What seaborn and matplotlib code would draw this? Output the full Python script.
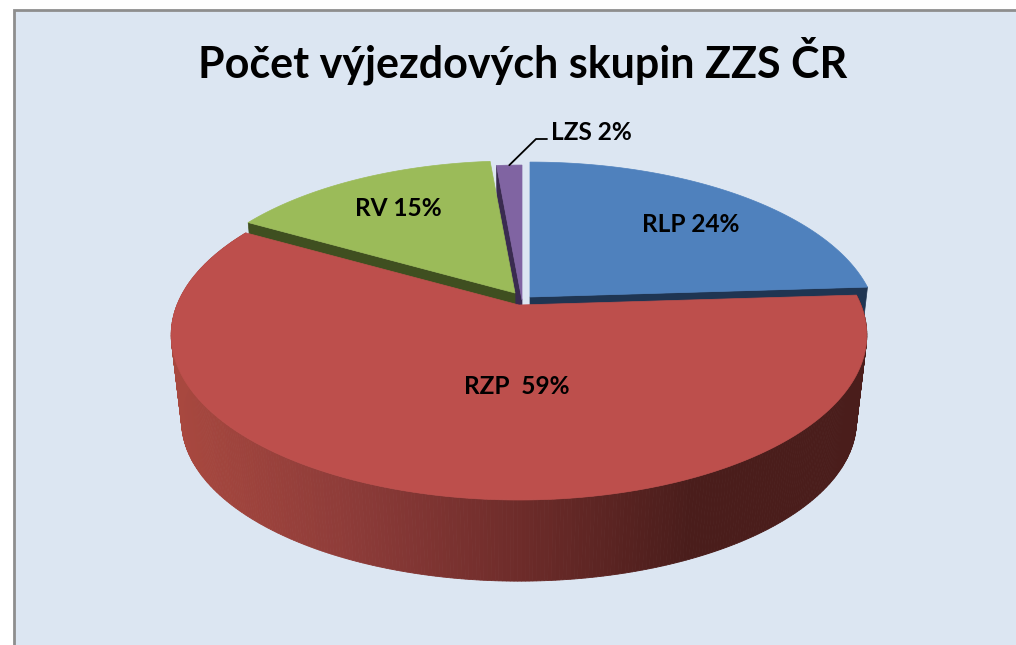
import numpy as np
import matplotlib
matplotlib.use("Agg")
import matplotlib.pyplot as plt
from matplotlib.patches import Rectangle
import seaborn as sns

# values (percent, clockwise from 12 o'clock)
groups = ["RLP", "RZP", "RV", "LZS"]
shares = [24.0, 59.2, 15.4, 1.4]
labels = ["RLP 24%", "RZP  59%", "RV 15%", "LZS 2%"]
title = "Počet výjezdových skupin ZZS ČR"

top_colors = ["#4F81BD", "#BD4F4C", "#9BBB59", "#8064A2"]
wall_colors = ["#1F3552", "#4A1D1B", "#3F4F20", "#3A2B50"]
side_ramp = ["#A8483F", "#8E3C39", "#6E2C2A", "#4A1D1B", "#4A1D1B"]
background = "#DCE6F2"

# slice offsets, radius factors and label anchors, in pixels
explode = {"RLP": (11, -8), "RZP": (0, 0), "RV": (-4, -12), "LZS": (3, -5)}
radius = {"RLP": 1.0, "RZP": 1.0, "RV": 0.975, "LZS": 1.0}
label_pos = {"RLP": (691, 225), "RZP": (517, 387), "RV": (398, 208), "LZS": (591, 132)}

# fake 3d pie: circle seen in perspective
CX, CY = 519, 305
RX, RY = 342, 159.5
PERSP = 0.182
DEPTH = 87
SHRINK = 0.97


def project(angle, r=1.0, lower=False, offset=(0, 0)):
    x = r * np.sin(angle)
    y = r * np.cos(angle)
    w = 1 + PERSP * y
    s = SHRINK if lower else 1.0
    return (CX + offset[0] + s * RX * x / w,
            CY + offset[1] + (DEPTH if lower else 0) - s * RY * y / w)


sns.set_theme(style="white")
plt.rcParams["font.family"] = ["Lato", "DejaVu Sans"]

fig, ax = plt.subplots(figsize=(10.16, 6.45), dpi=100)
fig.subplots_adjust(0, 0, 1, 1)
ax.set_xlim(0, 1016)
ax.set_ylim(645, 0)
ax.axis("off")

ax.add_patch(Rectangle((14, 10), 1100, 700, facecolor=background, edgecolor="#8E8E8E", lw=2, zorder=0))

edges = np.cumsum([0] + shares) / 100 * 2 * np.pi
spans = {g: (edges[i], edges[i + 1]) for i, g in enumerate(groups)}


def face(group, color, z):
    a0, a1 = spans[group]
    t = np.linspace(a0, a1, 200)
    off = explode[group]
    xs, ys = project(t, radius[group], offset=off)
    ax0, ay0 = project(0.0, 0.0, offset=off)
    ax.fill(np.r_[ax0, xs], np.r_[ay0, ys], color=color, lw=0.5, zorder=z)


def cut(group, angle, color, z):
    off = explode[group]
    r = radius[group]
    x0, y0 = project(0.0, 0.0, offset=off)
    x1, y1 = project(angle, r, offset=off)
    x2, y2 = project(angle, r, lower=True, offset=off)
    x3, y3 = project(0.0, 0.0, lower=True, offset=off)
    ax.fill([x0, x1, x2, x3], [y0, y1, y2, y3], color=color, lw=0.5, zorder=z)


# back slices: cut faces first, red slice hides most of them
cut("LZS", spans["LZS"][0], wall_colors[3], 1)
cut("RLP", spans["RLP"][1], wall_colors[0], 1)
cut("RV", spans["RV"][0], wall_colors[2], 1)
face("LZS", top_colors[3], 2)
face("RV", top_colors[2], 2)
face("RLP", top_colors[0], 2)

# outer wall of the red slice, shaded left to right
n_side = 400
ramp = sns.blend_palette(side_ramp, n_side)
t = np.linspace(spans["RZP"][0], spans["RZP"][1], n_side + 1)
tx, ty = project(t)
bx, by = project(t, lower=True)
for i in range(n_side):
    # ramp runs with screen x, not with the angle
    k = int(np.clip((bx[i] - bx.min()) / (bx.max() - bx.min()) * (n_side - 1), 0, n_side - 1))
    ax.fill([tx[i], tx[i + 1], bx[i + 1], bx[i]], [ty[i], ty[i + 1], by[i + 1], by[i]],
            color=ramp[k], lw=0.6, zorder=3)
face("RZP", top_colors[1], 4)

ax.text(523, 61, title, ha="center", va="center", fontsize=31, fontweight="bold", color="black", zorder=6)
for g, lab in zip(groups, labels):
    lx, ly = label_pos[g]
    ax.text(lx, ly, lab, ha="center", va="center", fontsize=17.6, fontweight="bold", color="black", zorder=6)

# leader line of the small slice
rim_x, rim_y = project(sum(spans["LZS"]) / 2, offset=explode["LZS"])
ax.plot([rim_x, 536, 547], [rim_y, 139, 139], color="black", lw=1.3, zorder=5)

fig.savefig("out.png", dpi=100)
